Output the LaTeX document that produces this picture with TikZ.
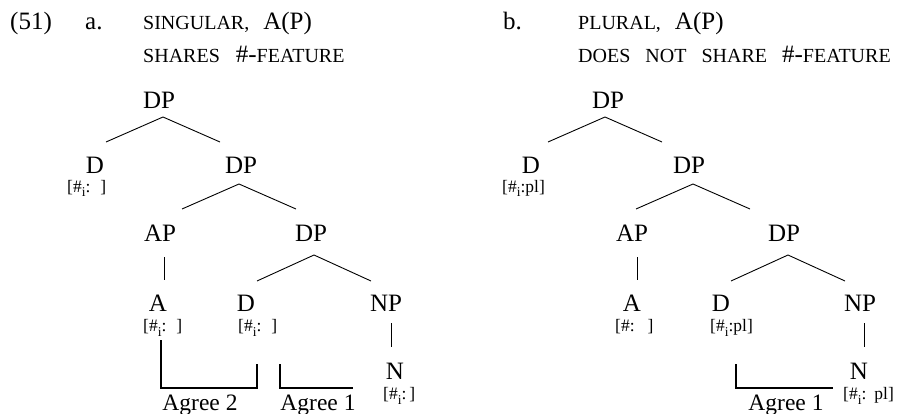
\documentclass[tikz,border=0pt]{standalone}
\usepackage{fontspec}
\usetikzlibrary{calc}
\setmainfont{Liberation Serif}
\newcommand\fsz[1]{\fontsize{#1}{#1}\selectfont}
\newcommand\sbi{\raisebox{-5pt}{\fsz{13.5}i}}
\newcommand\bigsym[1]{{\fsz{25}#1}}
\tikzset{
  cat/.style={font=\fsz{25}, inner sep=0pt, anchor=base},
  feat/.style={font=\fsz{17.5}, inner sep=0pt, anchor=base west},
  lab/.style={font=\fsz{23.5}, inner sep=0pt, anchor=base},
  hdr/.style={font=\fsz{25}, inner sep=0pt, anchor=base west},
  sc/.style={font=\fsz{20}, inner sep=0pt, anchor=base west},
  branch/.style={line width=0.9pt},
  agree/.style={line width=1.8pt},
}
\begin{document}
\begin{tikzpicture}[x=1pt,y=-1pt]
\useasboundingbox (0,0) rectangle (901,414);
% headers
\node[hdr] (num) at (10,30) {(51)};
\node[hdr] (la) at (85,30) {a.};
\node[sc] (h1a) at (143,30) {SINGULAR,\hspace{14pt}\bigsym{A(P)}};
\node[sc] (h2a) at (143,63) {SHARES\hspace{16pt}\bigsym{\#-}FEATURE};
\node[hdr] (lb) at (503,30) {b.};
\node[sc] (h1b) at (578,30) {PLURAL,\hspace{14pt}\bigsym{A(P)}};
\node[sc] (h2b) at (578,63) {DOES\hspace{15pt}NOT\hspace{15pt}SHARE\hspace{15pt}\bigsym{\#-}FEATURE};

% ---------- tree a ----------
\node[cat] (a0) at (159,109) {DP};
\node[cat] (aD1) at (95,173) {D};
\node[feat] (aF1) at (67,192) {[\#\sbi:\hspace{10pt}]};
\node[cat] (a1) at (241,173) {DP};
\node[cat] (aAP) at (160,241) {AP};
\node[cat] (a2) at (311,241) {DP};
\node[cat] (aA) at (158,311) {A};
\node[feat] (aFA) at (143,331) {[\#\sbi:\hspace{10pt}]};
\node[cat] (aD2) at (246,311) {D};
\node[feat] (aFD) at (238,331) {[\#\sbi:\hspace{10pt}]};
\node[cat] (aNP) at (386,311) {NP};
\node[cat] (aN) at (395,379) {N};
\node[feat] (aFN) at (383,399) {[\#\sbi:\hspace{3pt}]};
\node[lab] (ag2) at (200,410) {Agree 2};
\node[lab] (ag1a) at (318,410) {Agree 1};

\coordinate (va0) at (163,117);
\coordinate (va1) at (239,184);
\coordinate (va2) at (314,255);
\draw[branch] ($(va0)+(-57,25)$) -- (va0) -- ($(va0)+(57,25)$);
\draw[branch] ($(va1)+(-57,25)$) -- (va1) -- ($(va1)+(57,25)$);
\draw[branch] ($(va2)+(-57,26)$) -- (va2) -- ($(va2)+(57,26)$);
\coordinate (ua1) at (164,257);
\coordinate (ua2) at (164,280);
\draw[branch] (ua1) -- (ua2);
\coordinate (ub1) at (391,323);
\coordinate (ub2) at (391,347);
\draw[branch] (ub1) -- (ub2);
% agree brackets a
\coordinate (g2s) at (161,340);
\coordinate (g2a) at (161,388);
\coordinate (g2b) at (257,388);
\coordinate (g2e) at (257,364);
\draw[agree] (g2s) -- (g2a) -- (g2b) -- (g2e);
\coordinate (g1s) at (280,364);
\coordinate (g1a) at (280,388);
\coordinate (g1e) at (353,388);
\draw[agree] (g1s) -- (g1a) -- (g1e);

% ---------- tree b ----------
\node[cat] (b0) at (608,109) {DP};
\node[cat] (bD1) at (531,173) {D};
\node[feat] (bF1) at (502,192) {[\#\sbi:pl]};
\node[cat] (b1) at (689,173) {DP};
\node[cat] (bAP) at (632,241) {AP};
\node[cat] (b2) at (784,241) {DP};
\node[cat] (bA) at (632,311) {A};
\node[feat] (bFA) at (615,331) {[\#:\hspace{13pt}]};
\node[cat] (bD2) at (721,311) {D};
\node[feat] (bFD) at (710,331) {[\#\sbi:pl]};
\node[cat] (bNP) at (860,311) {NP};
\node[cat] (bN) at (859,379) {N};
\node[feat] (bFN) at (843,399) {[\#\sbi:\hspace{8pt}pl]};
\node[lab] (ag1b) at (786,410) {Agree 1};

\coordinate (vb0) at (605,117);
\coordinate (vb1) at (693,184);
\coordinate (vb2) at (788,255);
\draw[branch] ($(vb0)+(-57,25)$) -- (vb0) -- ($(vb0)+(57,25)$);
\draw[branch] ($(vb1)+(-57,25)$) -- (vb1) -- ($(vb1)+(57,25)$);
\draw[branch] ($(vb2)+(-57,26)$) -- (vb2) -- ($(vb2)+(57,26)$);
\coordinate (uc1) at (637,257);
\coordinate (uc2) at (637,280);
\draw[branch] (uc1) -- (uc2);
\coordinate (ud1) at (864,323);
\coordinate (ud2) at (864,347);
\draw[branch] (ud1) -- (ud2);
\coordinate (h1s) at (736,364);
\coordinate (h1a2) at (736,388);
\coordinate (h1e) at (833,388);
\draw[agree] (h1s) -- (h1a2) -- (h1e);
\end{tikzpicture}
\end{document}
